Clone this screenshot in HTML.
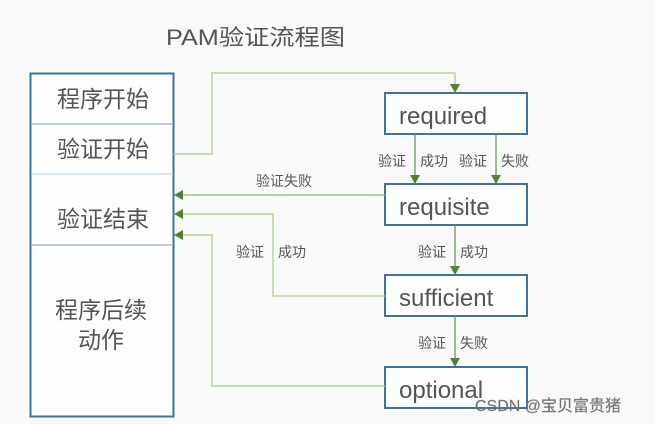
<!DOCTYPE html>
<html><head><meta charset="utf-8"><style>
html,body{margin:0;padding:0;background:#f8f9f9;}
svg{display:block}
text{font-family:"Liberation Sans","Noto Sans CJK SC",sans-serif;fill:#555}
</style></head><body>
<svg width="655" height="424" viewBox="0 0 655 424" xmlns="http://www.w3.org/2000/svg">
<rect width="655" height="424" fill="#f8f9f9"/>
<text x="166" y="45" font-size="22" fill="#555" textLength="179" lengthAdjust="spacingAndGlyphs">PAM验证流程图</text>
<rect x="30.5" y="73.5" width="143" height="343" fill="#fcfdfd" stroke="#41719c" stroke-width="2"/>
<line x1="31" y1="124" x2="173" y2="124" stroke="#8fb0cc" stroke-width="1.2"/>
<line x1="31" y1="174" x2="173" y2="174" stroke="#bfd6e6" stroke-width="1.2"/>
<line x1="31" y1="245" x2="173" y2="245" stroke="#8fb0cc" stroke-width="1.2"/>
<g font-size="23" text-anchor="middle">
<text x="103" y="107">程序开始</text>
<text x="103" y="157">验证开始</text>
<text x="103" y="227">验证结束</text>
<text x="101" y="318">程序后续</text>
<text x="101" y="348">动作</text>
</g>
<g fill="#fcfdfd" stroke="#41719c" stroke-width="2">
<rect x="385" y="93" width="142" height="41"/>
<rect x="385" y="184" width="142" height="41"/>
<rect x="385" y="275" width="142" height="41"/>
<rect x="385" y="367" width="142" height="41"/>
</g>
<g font-size="24">
<text x="399" y="124">required</text>
<text x="399" y="215">requisite</text>
<text x="399" y="306">sufficient</text>
<text x="399" y="398">optional</text>
</g>
<g fill="none" stroke-width="1.3">
<polyline points="173,154 212,154 212,73 455,73 455,88" stroke="#a9d18e"/>
<line x1="415" y1="134" x2="415" y2="179" stroke="#6f9c50"/>
<line x1="496" y1="134" x2="496" y2="179" stroke="#6f9c50"/>
<line x1="455" y1="225" x2="455" y2="270" stroke="#6f9c50"/>
<line x1="455" y1="316" x2="455" y2="362" stroke="#6f9c50"/>
<line x1="385" y1="195" x2="179" y2="195" stroke="#8cbd6e"/>
<polyline points="385,296 273,296 273,214 179,214" stroke="#a9d18e"/>
<polyline points="385,386 212,386 212,235 179,235" stroke="#a9d18e"/>
</g>
<g fill="#548235">
<polygon points="450,84 460,84 455,93"/>
<polygon points="410,175 420,175 415,184"/>
<polygon points="491,175 501,175 496,184"/>
<polygon points="450,266 460,266 455,275"/>
<polygon points="450,358 460,358 455,367"/>
<polygon points="174,195 183,190 183,200"/>
<polygon points="174,214 183,209 183,219"/>
<polygon points="174,235 183,230 183,240"/>
</g>
<g font-size="14">
<text x="378" y="166">验证</text><text x="420" y="166">成功</text>
<text x="459" y="166">验证</text><text x="501" y="166">失败</text>
<text x="418" y="257">验证</text><text x="460" y="257">成功</text>
<text x="418" y="348">验证</text><text x="460" y="348">失败</text>
<text x="256" y="186">验证失败</text>
<text x="236" y="257">验证</text><text x="278" y="257">成功</text>
</g>
<text x="475" y="411" font-size="16" fill="#fff" stroke="#999" stroke-width="0.4" opacity="0.9">CSDN @宝贝富贵猪</text>
</svg>
</body></html>
